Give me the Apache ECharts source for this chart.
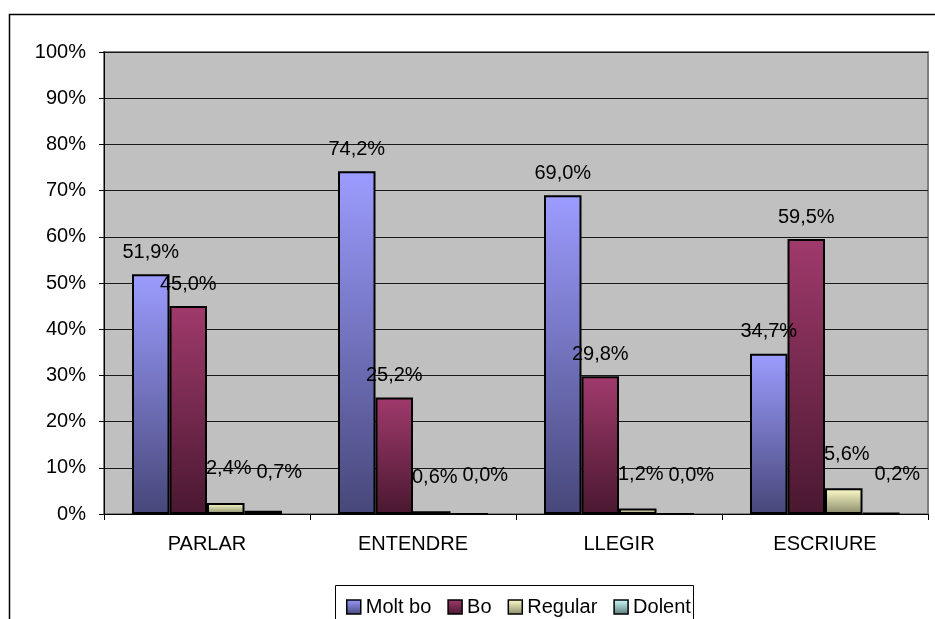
<!DOCTYPE html>
<html>
<head>
<meta charset="utf-8">
<script src="https://cdn.jsdelivr.net/npm/echarts@6/dist/echarts.min.js"></script>
<style>
html,body{margin:0;padding:0;background:#fff;}
#chart{width:935px;height:619px;}
</style>
</head>
<body>
<div id="chart"></div>
<script>
const categories = ['PARLAR', 'ENTENDRE', 'LLEGIR', 'ESCRIURE'];
const seriesNames = ['Molt bo', 'Bo', 'Regular', 'Dolent'];
const moltBo = [51.9, 74.2, 69.0, 34.7];
const bo = [45.0, 25.2, 29.8, 59.5];
const regular = [2.4, 0.6, 1.2, 5.6];
const dolent = [0.7, 0.0, 0.0, 0.2];
const yTicks = [0, 10, 20, 30, 40, 50, 60, 70, 80, 90, 100];

const FONT = '"Liberation Sans", Arial, sans-serif';
const grad = (top, bottom) => new echarts.graphic.LinearGradient(0, 0, 0, 1, [
  {offset: 0, color: top}, {offset: 1, color: bottom}
]);
const styles = [
  {color: grad('#9C9CFF', '#47477A'), offset: [0, 0]},
  {color: grad('#A03A6C', '#4A1830'), offset: [0, 0]},
  {color: grad('#FFFFCC', '#8A8A6A'), offset: [3, -12]},
  {color: grad('#CCFFFF', '#5E7A7A'), offset: [16, -16]}
];
const values = [moltBo, bo, regular, dolent];

const chart = echarts.init(document.getElementById('chart'));
chart.setOption({
  animation: false,
  backgroundColor: '#fff',
  textStyle: {fontFamily: FONT},
  graphic: [
    {type: 'rect', z: -10, shape: {x: 9.5, y: 14.5, width: 940, height: 620}, style: {fill: '#fff', stroke: '#000', lineWidth: 1.5}},
    {type: 'rect', z: -5, shape: {x: 335.5, y: 585.5, width: 358, height: 60}, style: {fill: '#fff', stroke: '#000', lineWidth: 1}}
  ],
  grid: {
    left: 104, right: 7, top: 52, bottom: 105,
    show: true, backgroundColor: '#C0C0C0', borderColor: '#808080', borderWidth: 2
  },
  legend: {
    data: seriesNames,
    left: 341, top: 592,
    icon: 'rect', itemWidth: 14, itemHeight: 14, itemGap: 16,
    textStyle: {fontSize: 20, color: '#000', fontFamily: FONT},
    itemStyle: {borderColor: '#000', borderWidth: 1.5}
  },
  xAxis: {
    type: 'category', data: categories,
    axisLine: {lineStyle: {color: '#000', width: 1}},
    axisTick: {show: true, length: 6, lineStyle: {color: '#000'}},
    axisLabel: {fontSize: 20, color: '#000', margin: 20, fontFamily: FONT},
    splitLine: {show: false}
  },
  yAxis: {
    type: 'value', min: yTicks[0], max: yTicks[yTicks.length - 1], interval: 10,
    axisLine: {show: true, lineStyle: {color: '#000', width: 1}},
    axisTick: {show: true, length: 5, lineStyle: {color: '#000'}},
    axisLabel: {fontSize: 20, color: '#000', margin: 18, formatter: '{value}%', fontFamily: FONT},
    splitLine: {show: true, lineStyle: {color: '#1a1a1a', width: 1}}
  },
  series: seriesNames.map((name, i) => ({
    name, type: 'bar', data: values[i],
    barWidth: 37.5, barGap: '0%',
    itemStyle: {color: styles[i].color, borderColor: '#000', borderWidth: 2},
    label: {
      show: true, position: 'top', distance: 12, offset: styles[i].offset,
      fontSize: 20, color: '#000', fontFamily: FONT,
      formatter: p => p.value.toFixed(1).replace('.', ',') + '%'
    }
  }))
});
</script>
</body>
</html>
